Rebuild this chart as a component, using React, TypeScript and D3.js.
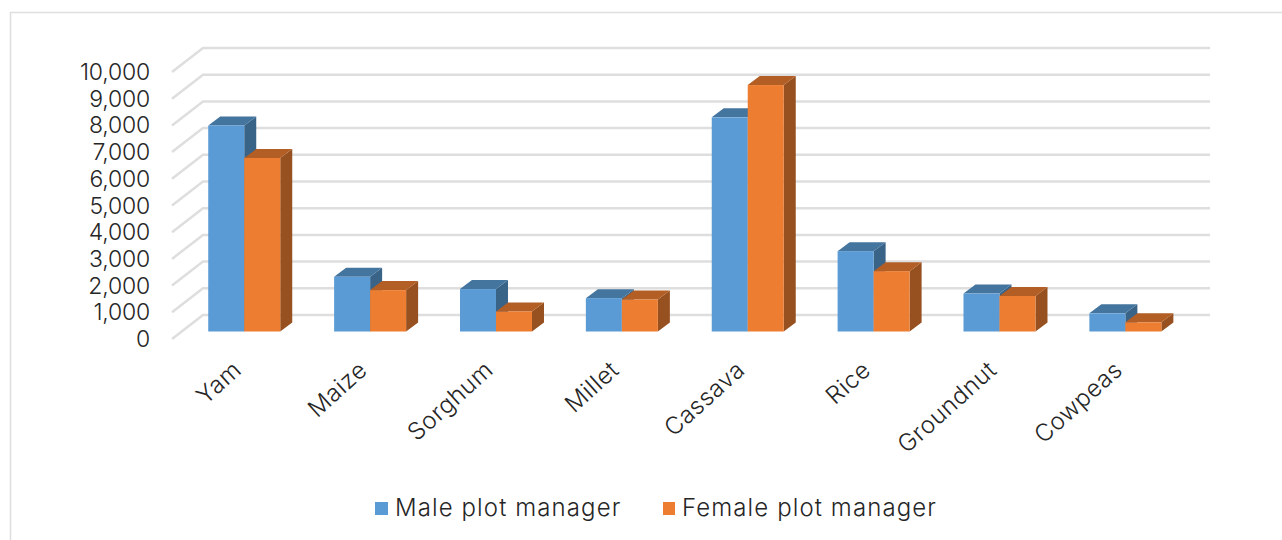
import React from "react";
import * as d3 from "d3";

const categories = ["Yam", "Maize", "Sorghum", "Millet", "Cassava", "Rice", "Groundnut", "Cowpeas"];
const maleValues = [7715, 2050, 1590, 1250, 8020, 3010, 1420, 680];
const femaleValues = [6500, 1550, 750, 1200, 9230, 2260, 1330, 345];
const yTicks = [0, 1000, 2000, 3000, 4000, 5000, 6000, 7000, 8000, 9000, 10000];
const seriesNames = ["Male plot manager", "Female plot manager"];

const FONT = "Inter, Lato, 'Liberation Sans', sans-serif";
const GRID = "#dedede";
const INK = "#262626";
const palette = [
  { front: "#5b9bd5", top: "#44759f", side: "#3a6388" },
  { front: "#ed7d31", top: "#b25e25", side: "#97501f" },
];

// floor of the 3D box
const frontLeft = 172;
const frontRight = 1179;
const floorFrontY = 339;
const depthX = 31;
const depthY = -24;
// bars sit inside the floor depth
const barOffsetX = 10.3;
const barOffsetY = -7.5;
const barDepthX = 12;
const barDepthY = -9;
const barWidth = 36;

const x = d3.scaleBand<string>().domain(categories).range([frontLeft, frontRight]);
const h = d3.scaleLinear().domain([0, 10000]).range([0, 267]);

const fmt = d3.format(",");

function pts(list: number[][]) {
  return list.map((p) => p.join(",")).join(" ");
}

function Bar({ cat, value, idx }: { cat: string; value: number; idx: number }) {
  const c = palette[idx];
  const band = x(cat)!;
  const x0 = band + (x.bandwidth() - 2 * barWidth) / 2 + barOffsetX - 1 + idx * barWidth;
  const x1 = x0 + barWidth;
  const base = floorFrontY + barOffsetY;
  const top = base - h(value);
  return (
    <g>
      <polygon
        fill={c.side}
        points={pts([[x1, top], [x1 + barDepthX, top + barDepthY], [x1 + barDepthX, base + barDepthY], [x1, base]])}
      />
      <polygon
        fill={c.top}
        points={pts([[x0, top], [x0 + barDepthX, top + barDepthY], [x1 + barDepthX, top + barDepthY], [x1, top]])}
      />
      <rect x={x0} y={top} width={barWidth} height={base - top} fill={c.front} />
    </g>
  );
}

export default function App() {
  return (
    <svg
      width={1282}
      height={540}
      style={{ position: "absolute", left: 0, top: 0, background: "#fff" }}
      fontFamily={FONT}
      fontWeight={300}
    >
      <path d="M10.5,540 V12.5 H1282" fill="none" stroke={GRID} strokeWidth={1.5} />
      {yTicks.map((t) => {
        const y = floorFrontY - h(t);
        return (
          <g key={t}>
            <polyline
              fill="none"
              stroke={GRID}
              strokeWidth={2.5}
              points={pts([[frontLeft, y], [frontLeft + depthX, y + depthY], [frontRight + depthX, y + depthY]])}
            />
            <text x={150} y={y + 8} textAnchor="end" fontSize={23} letterSpacing={-0.2} fill={INK}>
              {fmt(t)}
            </text>
          </g>
        );
      })}
      {categories.map((c, i) => (
        <g key={c}>
          <Bar cat={c} value={maleValues[i]} idx={0} />
          <Bar cat={c} value={femaleValues[i]} idx={1} />
        </g>
      ))}
      {categories.map((c) => {
        const px = x(c)! + x.bandwidth() / 2 + 8;
        return (
          <text
            key={c}
            transform={`translate(${px},372) rotate(-42)`}
            textAnchor="end"
            fontSize={24}
            letterSpacing={0.5}
            fill={INK}
          >
            {c}
          </text>
        );
      })}
      <g fontSize={24} fill={INK} letterSpacing={1.1}>
        <rect x={375} y={502} width={13} height={13} fill={palette[0].front} />
        <text x={395} y={516}>{seriesNames[0]}</text>
        <rect x={663} y={502} width={12} height={13} fill={palette[1].front} />
        <text x={682} y={516}>{seriesNames[1]}</text>
      </g>
    </svg>
  );
}
